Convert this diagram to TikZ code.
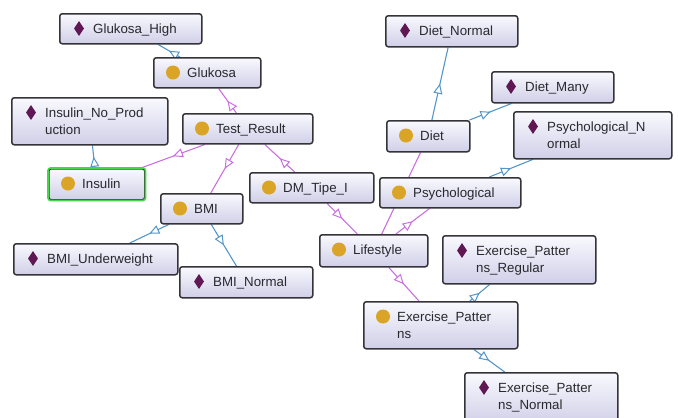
\documentclass[tikz,border=0pt]{standalone}
\usepackage{fontspec}
\setmainfont{Liberation Sans}
\usetikzlibrary{arrows.meta,decorations.markings,shapes.geometric}

\definecolor{boxtop}{RGB}{249,249,254}
\definecolor{boxbot}{RGB}{208,207,232}
\definecolor{boxline}{RGB}{52,52,56}
\definecolor{classdot}{RGB}{218,165,38}
\definecolor{indivmark}{RGB}{96,24,84}
\definecolor{subline}{RGB}{202,112,226}
\definecolor{typeline}{RGB}{84,150,200}
\definecolor{selline}{RGB}{70,215,70}
\definecolor{labeltext}{RGB}{40,40,46}

\pgfdeclarelayer{edgelayer}
\pgfsetlayers{edgelayer,main}

\tikzset{
  ontobox/.style={draw=boxline, line width=1.5pt, rounded corners=2.5pt,
    top color=boxtop, bottom color=boxbot, anchor=north west, inner sep=0pt},
  classicon/.style={circle, fill=classdot, minimum size=14pt, inner sep=0pt},
  indicon/.style={diamond, fill=indivmark, minimum width=10pt, minimum height=15pt, inner sep=0pt},
  itemtext/.style={anchor=base west, inner sep=0pt, text=labeltext,
    font=\fontsize{13.3}{16.7}\selectfont},
  openhead/.style={postaction={decorate}, decoration={markings,
    mark=at position 0.5 with {\arrow{Triangle[length=10pt, width=9pt, fill=white, line width=1pt]}}}},
  subedge/.style={draw=subline, line width=1.1pt, openhead},
  typeedge/.style={draw=typeline, line width=1.1pt, openhead},
}

% box: name, left, top, width, height, icon style, first line, second line
\newcommand{\ontoitem}[8]{%
  \node[ontobox, minimum width=#4pt, minimum height=#5pt] (#1) at (#2,-#3) {};
  \node[#6] (#1-i) at ({#2+20},{-#3-15.5}) {};
  \node[itemtext] (#1-t) at ({#2+34},{-#3-20.5}) {#7};
  \if\relax\detokenize{#8}\relax\else
    \node[itemtext] (#1-u) at ({#2+34},{-#3-37.2}) {#8};
  \fi
}

\begin{document}
\begin{tikzpicture}[x=1pt,y=1pt]
\clip (0,0) rectangle (678,-418);
\useasboundingbox (0,0) rectangle (678,-418);

\ontoitem{gh}{59}{13}{142}{30}{indicon}{Glukosa\_High}{}
\ontoitem{gl}{153}{57}{107}{30}{classicon}{Glukosa}{}
\ontoitem{inp}{11}{97}{156}{47}{indicon}{Insulin\_No\_Prod}{uction}
\ontoitem{tr}{182}{113}{130}{30}{classicon}{Test\_Result}{}
\ontoitem{ins}{48}{168}{96}{31}{classicon}{Insulin}{}
\ontoitem{dm}{249}{172}{124}{30}{classicon}{DM\_Tipe\_I}{}
\ontoitem{bmi}{160}{193}{82}{30}{classicon}{BMI}{}
\ontoitem{bmiu}{13}{243}{164}{31}{indicon}{BMI\_Underweight}{}
\ontoitem{bmin}{179}{266}{133}{31}{indicon}{BMI\_Normal}{}
\ontoitem{dn}{385}{15}{132}{31}{indicon}{Diet\_Normal}{}
\ontoitem{dmany}{491}{71}{122}{31}{indicon}{Diet\_Many}{}
\ontoitem{diet}{386}{120}{83}{31}{classicon}{Diet}{}
\ontoitem{pn}{513}{111}{158}{47}{indicon}{Psychological\_N}{ormal}
\ontoitem{psy}{379}{177}{141}{30}{classicon}{Psychological}{}
\ontoitem{life}{319}{234}{108}{32}{classicon}{Lifestyle}{}
\ontoitem{exr}{442}{235}{153}{48}{indicon}{Exercise\_Patter}{ns\_Regular}
\ontoitem{ex}{363}{301}{154}{47}{classicon}{Exercise\_Patter}{ns}
\ontoitem{exn}{464}{372}{153}{52}{indicon}{Exercise\_Patter}{ns\_Normal}

% the selected class
\draw[selline, line width=1.6pt, rounded corners=2.5pt] (ins.north west) rectangle (ins.south east);

\begin{pgfonlayer}{edgelayer}
  % class hierarchy
  \draw[subedge] (tr) -- (gl);
  \draw[subedge] (tr) -- (ins);
  \draw[subedge] (tr) -- (bmi);
  \draw[subedge] (dm) -- (tr);
  \draw[subedge] (dm) -- (life);
  \draw[subedge] (life) -- (psy);
  \draw[subedge] (life) -- (diet);
  \draw[subedge] (life) -- (ex);
  % individuals
  \draw[typeedge] (gl) -- (gh);
  \draw[typeedge] (ins) -- (inp);
  \draw[typeedge] (bmi) -- (bmiu);
  \draw[typeedge] (bmi) -- (bmin);
  \draw[typeedge] (diet) -- (dn);
  \draw[typeedge] (diet) -- (dmany);
  \draw[typeedge] (psy) -- (pn);
  \draw[typeedge] (ex) -- (exr);
  \draw[typeedge] (ex) -- (exn);
\end{pgfonlayer}
\end{tikzpicture}
\end{document}
